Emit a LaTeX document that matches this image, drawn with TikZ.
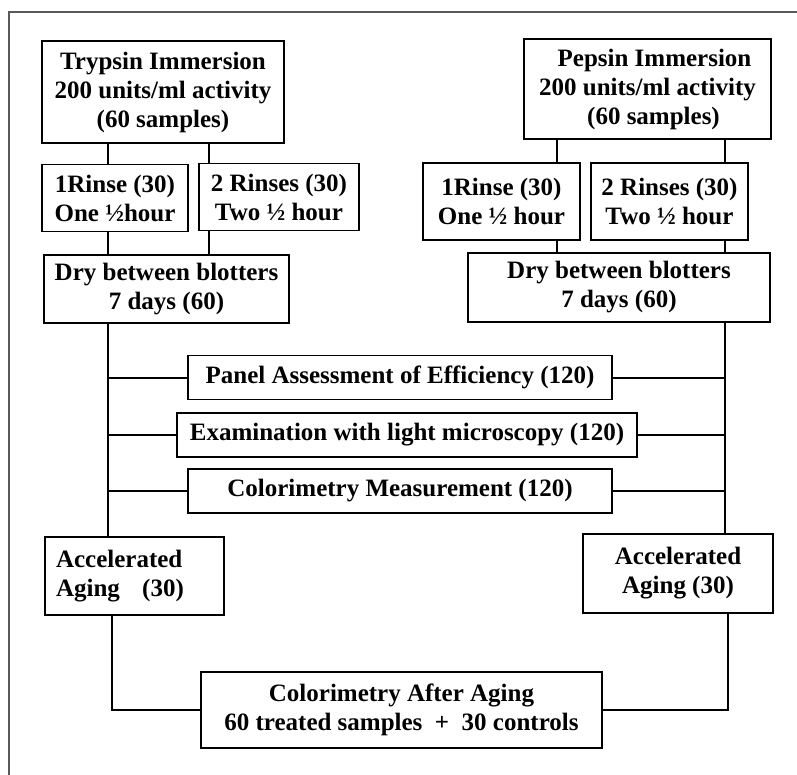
\documentclass[tikz,border=0pt]{standalone}
\usepackage{fontspec}
\setmainfont{Liberation Serif}
\usetikzlibrary{arrows}
\definecolor{cframe}{rgb}{0.35, 0.35, 0.35}

\begin{document}
\begin{tikzpicture}[x=1pt,y=-1pt,-,line width=2pt,
  main node/.style={rectangle,draw,line width=1.5pt,inner sep=0pt,align=center,
    font=\fontsize{25}{29}\selectfont\bfseries},
  test node/.style={main node,minimum height=44pt}]
  \useasboundingbox (0,0) rectangle (797,775);
  \draw[cframe,line width=1.2pt] (9,775) -- (9,12) -- (797,12);

  % columns of the connectors
  \coordinate (a) at (108,0);
  \coordinate (b) at (209,0);
  \coordinate (c) at (557,0);
  \coordinate (d) at (725,0);
  \coordinate (e) at (112,0);
  \coordinate (f) at (728,0);

  \node[main node,minimum width=242,minimum height=102] (1) at (163,92) {Trypsin Immersion\\200 units/ml activity\\(60 samples)};
  \node[main node,minimum width=247,minimum height=100] (2) at (647.5,89) {\hspace*{14pt}Pepsin Immersion\\200 units/ml activity\\\hspace*{12pt}(60 samples)};
  \node[main node,minimum width=146,minimum height=67] (3) at (115,198) {1Rinse (30)\\One ½hour};
  \node[main node,minimum width=160,minimum height=67] (4) at (279,197) {2 Rinses (30)\\Two ½ hour};
  \node[main node,minimum width=157,minimum height=77] (5) at (501.5,201.5) {1Rinse (30)\\One ½ hour};
  \node[main node,minimum width=157,minimum height=77] (6) at (669.5,201.5) {2 Rinses (30)\\Two ½ hour};
  \node[main node,minimum width=245,minimum height=68] (7) at (166.5,289) {Dry between blotters\\7 days (60)};
  \node[main node,minimum width=302,minimum height=69] (8) at (619,287.5) {Dry between blotters\\7 days (60)};
  \node[test node,minimum width=424] (9) at (400,377.5) {Panel Assessment of Efficiency (120)};
  \node[test node,minimum width=460] (10) at (407,435) {Examination with light microscopy (120)};
  \node[test node,minimum width=424] (11) at (400,491) {Colorimetry Measurement (120)};
  \node[main node,minimum height=78,text width=157,inner xsep=11,align=left] (12) at (134.5,576) {Accelerated\\Aging\hspace{14pt} (30)};
  \node[main node,minimum width=190,minimum height=79] (13) at (678,573.5) {Accelerated\\Aging (30)};
  \node[main node,minimum width=401,minimum height=76] (14) at (401.5,710) {Colorimetry After Aging\\60 treated samples\ \ +\ \ 30 controls};

  \path
    (1.south -| a) edge (3.north -| a)
    (1.south -| b) edge (4.north -| b)
    (2.south -| c) edge (5.north -| c)
    (2.south -| d) edge (6.north -| d)
    (3.south -| a) edge (7.north -| a)
    (4.south -| b) edge (7.north -| b)
    (5.south -| c) edge (8.north -| c)
    (6.south -| d) edge (8.north -| d)
    (7.south -| a) edge (12.north -| a)
    (8.south -| d) edge (13.north -| d)
    (9.west -| a) edge (9.west)
    (10.west -| a) edge (10.west)
    (11.west -| a) edge (11.west)
    (9.east) edge (9.east -| d)
    (10.east) edge (10.east -| d)
    (11.east) edge (11.east -| d);
  \draw (12.south -| e) |- (14.west);
  \draw (13.south -| f) |- (14.east);
\end{tikzpicture}
\end{document}
